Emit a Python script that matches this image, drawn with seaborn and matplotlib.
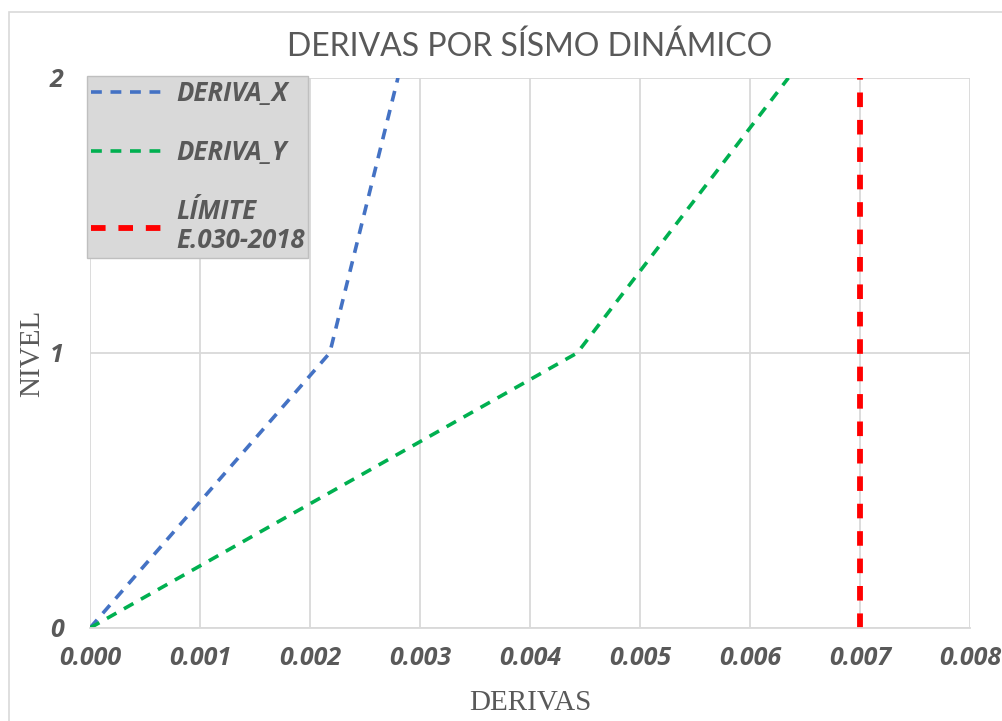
import matplotlib
matplotlib.use('Agg')
import matplotlib.pyplot as plt
import matplotlib.patches as mpatches
import seaborn as sns
import pandas as pd

# ── Data ────────────────────────────────────────────────────
niveles = [0, 1, 2]
deriva_x = [0.0, 0.00218, 0.00280]
deriva_y = [0.0, 0.00443, 0.00635]
limite = [0.007, 0.007, 0.007]
x_ticks = [0.000, 0.001, 0.002, 0.003, 0.004, 0.005, 0.006, 0.007, 0.008]
y_ticks = [0, 1, 2]

df = pd.DataFrame({'nivel': niveles, 'DERIVA_X': deriva_x,
                   'DERIVA_Y': deriva_y, 'LIMITE': limite})

sns.set_style('white')
fig = plt.figure(figsize=(10.03, 7.21), dpi=100)
ax = fig.add_axes([0.0897, 0.129, 0.8773, 0.763])

# outer chart border
fig.patches.append(mpatches.Rectangle((0.009, -0.01), 1.2, 0.993, transform=fig.transFigure,
                                      fill=False, edgecolor='#d9d9d9', linewidth=1.2))

sns.lineplot(data=df, x='DERIVA_X', y='nivel', ax=ax, color='#4472c4', linewidth=2.6,
             linestyle=(0, (3, 2.4)), sort=False, estimator=None, label='DERIVA_X')
sns.lineplot(data=df, x='DERIVA_Y', y='nivel', ax=ax, color='#00b050', linewidth=2.6,
             linestyle=(0, (3, 2.4)), sort=False, estimator=None, label='DERIVA_Y')
sns.lineplot(data=df, x='LIMITE', y='nivel', ax=ax, color='#ff0000', linewidth=4.2,
             linestyle=(0, (2.5, 2.2)), sort=False, estimator=None, label='LÍMITE\nE.030-2018')

ax.set_xlim(0, 0.008)
ax.set_ylim(0, 2)
ax.set_xticks(x_ticks)
ax.set_yticks(y_ticks)
ax.set_xticklabels([f'{v:.3f}' for v in x_ticks])
ax.grid(True, color='#d9d9d9', linewidth=1.3)
for s in ['top', 'right', 'left']:
    ax.spines[s].set_visible(False)
ax.spines['bottom'].set_color('#d9d9d9')
ax.spines['bottom'].set_linewidth(1.3)
ax.tick_params(axis='both', length=0, labelsize=18, labelcolor='#595959')
for lbl in ax.get_xticklabels() + ax.get_yticklabels():
    lbl.set_family('Open Sans')
    lbl.set_fontstyle('italic')
    lbl.set_fontweight('bold')
ax.tick_params(axis='x', pad=13)
ax.tick_params(axis='y', pad=19)

ax.set_title('DERIVAS POR SÍSMO DINÁMICO', fontsize=23, color='#595959',
             family='Lato', fontweight='normal', pad=16)
ax.set_xlabel('DERIVAS', family='Liberation Serif', fontsize=21, color='#595959')
ax.set_ylabel('NIVEL', family='Liberation Serif', fontsize=21, color='#595959')
ax.xaxis.set_label_coords(0.5, -0.113)
ax.yaxis.set_label_coords(-0.051, 0.5)

leg = ax.legend(loc='upper left', bbox_to_anchor=(-0.003, 1.003), frameon=True,
                fancybox=False, facecolor='#d9d9d9', edgecolor='#bfbfbf',
                prop={'family': 'Open Sans', 'size': 18.5, 'style': 'italic', 'weight': 'bold'},
                labelspacing=1.25, handlelength=3.0, borderpad=0.15, handletextpad=0.3,
                borderaxespad=0)
leg.get_frame().set_alpha(1)
for t in leg.get_texts():
    t.set_color('#595959')
    t.set_linespacing(1.1)

plt.savefig('out.png', dpi=100)
plt.close()
